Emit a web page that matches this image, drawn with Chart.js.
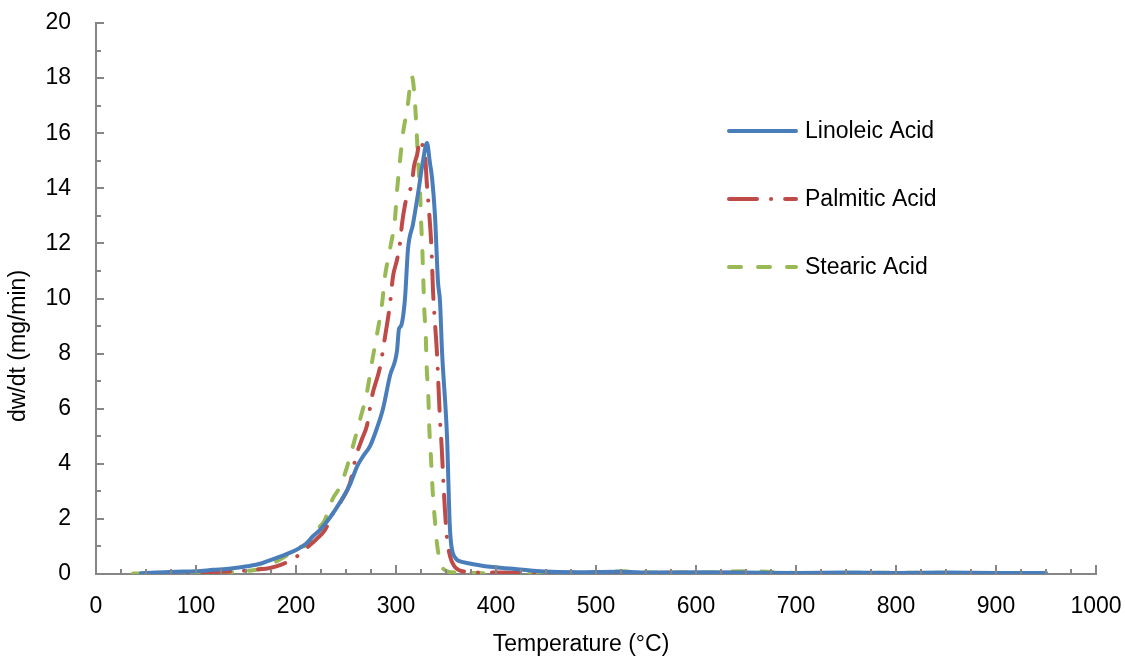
<!DOCTYPE html>
<html><head><meta charset="utf-8">
<script src="https://cdn.jsdelivr.net/npm/chart.js@4"></script>
<style>html,body{margin:0;padding:0;background:#fff}</style>
</head><body>
<canvas id="c" width="1125" height="657" style="width:1125px;height:657px;display:block"></canvas>
<script>
// ---- data ----
const seriesNames = ['Linoleic Acid', 'Palmitic Acid', 'Stearic Acid'];
const xTicks = [0, 100, 200, 300, 400, 500, 600, 700, 800, 900, 1000];
const yTicks = [0, 2, 4, 6, 8, 10, 12, 14, 16, 18, 20];

const linoleicT = [45, 60, 80, 100, 117, 135, 151, 165, 171, 184, 201, 210, 217, 224, 234, 244, 254, 261, 267, 274, 281, 287, 294, 301, 303, 305, 309, 312, 317, 322, 327, 331, 334, 336, 339, 342, 344, 346, 351, 354, 359, 365, 371, 394, 417, 444, 480, 520, 560, 600, 650, 700, 750, 800, 850, 900, 950];
const linoleicY = [0.03, 0.05, 0.08, 0.1, 0.15, 0.2, 0.28, 0.38, 0.46, 0.63, 0.89, 1.1, 1.37, 1.6, 2.05, 2.6, 3.25, 3.9, 4.27, 4.64, 5.3, 6.0, 7.2, 8.1, 8.9, 9.0, 10.0, 11.8, 12.7, 13.8, 15.0, 15.64, 14.9, 14.4, 13.0, 10.6, 9.9, 8.1, 5.0, 1.6, 0.6, 0.45, 0.4, 0.26, 0.19, 0.1, 0.06, 0.08, 0.05, 0.06, 0.05, 0.04, 0.05, 0.04, 0.05, 0.04, 0.04];

const palmiticT = [50, 80, 117, 140, 161, 174, 186, 197, 205, 211, 220, 229, 237, 246, 254, 260, 266, 271, 276, 284, 289, 294, 297, 301, 304, 306, 309, 311, 316, 318, 321, 324, 327, 329, 331, 333, 335.5, 337, 339, 341, 342.5, 344, 345.7, 347.3, 349, 351, 354, 358, 362, 370, 400, 450, 500, 550, 600, 650, 700, 750, 800, 850, 900, 954];
const palmiticY = [0.02, 0.04, 0.07, 0.1, 0.16, 0.22, 0.35, 0.55, 0.75, 0.95, 1.25, 1.6, 2.2, 2.7, 3.3, 4.27, 4.9, 5.4, 6.45, 7.5, 8.6, 9.8, 10.8, 11.4, 12.0, 12.7, 13.4, 13.7, 14.2, 14.8, 15.2, 15.76, 15.5, 15.2, 14.1, 13.2, 11.8, 10.3, 9.1, 8.0, 6.8, 5.6, 4.6, 3.4, 2.28, 1.3, 0.65, 0.3, 0.16, 0.08, 0.05, 0.04, 0.05, 0.04, 0.05, 0.04, 0.03, 0.04, 0.03, 0.04, 0.03, 0.03];

const stearicT = [37, 60, 90, 127, 145, 161, 172, 184, 192, 201, 211, 218, 224, 228, 237, 243, 249, 257, 264, 271, 276, 281, 286, 289, 294, 299, 301, 304, 307, 311.7, 314, 315.7, 317, 319, 320.7, 322.3, 324, 325, 326.3, 327.3, 328.3, 329.7, 330.7, 332.3, 333.3, 335, 336.7, 339, 341, 344, 347, 351, 360, 400, 450, 500, 525, 560, 600, 650, 700, 750, 800, 850, 900, 949];
const stearicY = [0.02, 0.02, 0.03, 0.05, 0.1, 0.16, 0.3, 0.53, 0.7, 0.96, 1.05, 1.4, 1.73, 1.9, 2.75, 3.1, 3.65, 4.65, 5.6, 6.6, 7.7, 8.7, 9.8, 10.8, 11.8, 12.9, 13.9, 15.0, 16.0, 17.0, 17.7, 18.06, 17.9, 17.1, 16.0, 14.9, 13.9, 12.9, 11.8, 10.7, 9.6, 8.7, 7.5, 6.5, 5.3, 4.2, 3.0, 1.9, 1.1, 0.46, 0.2, 0.1, 0.05, 0.03, 0.03, 0.04, 0.1, 0.05, 0.05, 0.1, 0.04, 0.04, 0.05, 0.04, 0.04, 0.04];

const colors = ['#4A7EBB', '#BE4B48', '#98B954'];
const dashes = [[], [28, 14, 0.1, 14], [12, 17]];

function pts(t, y) { return t.map((v, i) => ({ x: v, y: y[i] })); }

const FONT = "'Liberation Sans', Arial, sans-serif";

function noPad(s) { s.paddingLeft = 0; s.paddingRight = 0; s.paddingTop = 0; s.paddingBottom = 0; }

const decor = {
  id: 'decor',
  afterDraw(chart) {
    const ctx = chart.ctx;
    const xs = chart.scales.x, ys = chart.scales.y;
    const x0 = xs.left, y0 = ys.bottom;
    ctx.save();
    ctx.strokeStyle = '#868686';
    ctx.lineWidth = 2;
    ctx.beginPath();
    for (let v = 0; v <= 20; v += 1) {
      const py = Math.round(ys.getPixelForValue(v));
      const len = (v % 2 === 0) ? 8 : 5;
      ctx.moveTo(x0, py); ctx.lineTo(x0 + len, py);
    }
    for (let v = 0; v <= 1000; v += 25) {
      const px = Math.round(xs.getPixelForValue(v));
      const len = (v % 100 === 0) ? 9 : 5;
      ctx.moveTo(px, y0); ctx.lineTo(px, y0 - len);
    }
    ctx.stroke();

    ctx.fillStyle = '#000';
    ctx.font = '23px ' + FONT;
    ctx.textAlign = 'center';
    ctx.textBaseline = 'middle';
    ctx.fillText('Temperature (\u00B0C)', 581, 645);
    ctx.save();
    ctx.translate(19, 346);
    ctx.rotate(-Math.PI / 2);
    ctx.fillText('dw/dt (mg/min)', 0, 0);
    ctx.restore();

    const ly = [131, 199, 267];
    chart.data.datasets.forEach((ds, i) => {
      ctx.save();
      ctx.strokeStyle = ds.borderColor;
      ctx.lineWidth = 4;
      ctx.lineCap = 'round';
      ctx.setLineDash(ds.borderDash || []);
      ctx.beginPath();
      ctx.moveTo(729, ly[i]); ctx.lineTo(796, ly[i]);
      ctx.stroke();
      ctx.restore();
      ctx.fillStyle = '#000';
      ctx.font = '23px ' + FONT;
      ctx.textAlign = 'left';
      ctx.textBaseline = 'middle';
      ctx.fillText(ds.label, 805, ly[i] + 1);
    });
    ctx.restore();
  }
};

new Chart(document.getElementById('c'), {
  type: 'line',
  data: {
    datasets: [
      { label: seriesNames[0], data: pts(linoleicT, linoleicY), borderColor: colors[0], borderDash: dashes[0] },
      { label: seriesNames[1], data: pts(palmiticT, palmiticY), borderColor: colors[1], borderDash: dashes[1] },
      { label: seriesNames[2], data: pts(stearicT, stearicY), borderColor: colors[2], borderDash: dashes[2] }
    ].map(d => Object.assign(d, { borderWidth: 4, pointRadius: 0, fill: false, borderCapStyle: 'round', borderJoinStyle: 'round', cubicInterpolationMode: 'monotone' }))
  },
  options: {
    responsive: false,
    animation: false,
    layout: { padding: { left: 0, top: 23, right: 29, bottom: 0 } },
    plugins: { legend: { display: false }, tooltip: { enabled: false } },
    scales: {
      x: {
        type: 'linear', min: 0, max: 1000,
        afterBuildTicks: s => { s.ticks = xTicks.map(v => ({ value: v })); },
        afterFit: s => { s.height = 83; noPad(s); },
        grid: { display: false, drawTicks: false },
        border: { display: true, color: '#868686', width: 2 },
        ticks: { color: '#000', font: { family: FONT, size: 23 }, padding: 19, maxRotation: 0, autoSkip: false, callback: v => String(v) }
      },
      y: {
        min: 0, max: 20,
        afterBuildTicks: s => { s.ticks = yTicks.map(v => ({ value: v })); },
        afterFit: s => { s.width = 96; noPad(s); },
        grid: { display: false, drawTicks: false },
        border: { display: true, color: '#868686', width: 2 },
        ticks: { color: '#000', font: { family: FONT, size: 23 }, padding: 25, callback: v => String(v) }
      }
    }
  },
  plugins: [decor]
});
</script>
</body></html>
